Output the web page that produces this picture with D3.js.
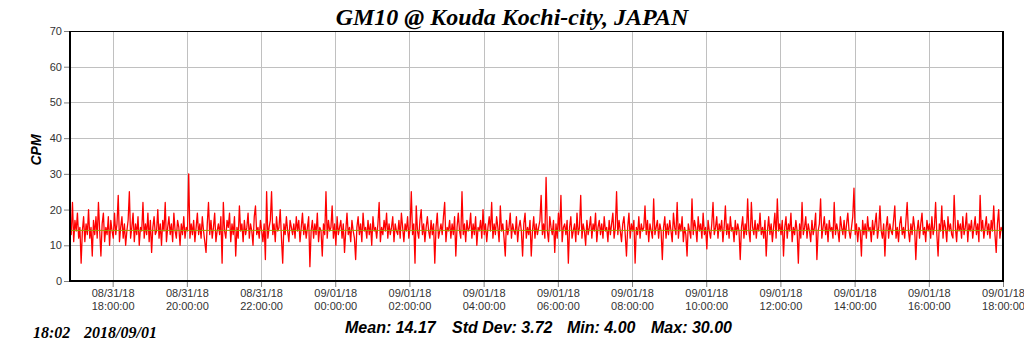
<!DOCTYPE html>
<html>
<head>
<meta charset="utf-8">
<script src="https://cdn.jsdelivr.net/npm/d3@7"></script>
<style>
  body { margin: 0; background: #fff; }
  svg { display: block; }
</style>
</head>
<body>
<script>
// counts per minute, one reading every 2 minutes from 08/31/18 16:51
const cpm = [
  16,13,22,11,17,14,19,12,15,5,14,18,11,16,13,20,12,15,7,17,
  13,18,12,22,14,7,16,19,11,15,13,18,10,17,14,12,19,13,16,24,
  11,15,18,12,16,10,14,17,25,12,15,19,11,16,13,18,10,15,14,22,
  12,16,13,19,11,17,8,15,18,13,14,20,12,16,10,17,14,22,11,15,
  18,13,16,11,19,14,12,17,15,10,16,13,18,12,15,14,30,12,16,13,
  17,11,15,19,13,16,12,18,14,11,8,16,22,13,17,12,15,19,11,14,
  16,13,18,5,22,14,12,17,15,19,11,16,13,18,7,15,12,21,14,16,
  11,17,13,15,19,12,16,14,10,18,21,13,15,12,17,14,11,16,6,25,
  12,15,17,25,13,16,11,18,14,15,20,12,5,16,13,18,14,11,17,15,
  13,16,12,18,14,17,11,15,19,13,16,12,15,18,4,14,17,12,16,13,
  19,11,15,14,7,16,13,25,12,17,14,15,21,12,16,10,18,13,15,17,
  12,16,8,14,19,13,15,11,17,14,12,6,15,18,13,16,11,19,14,15,
  12,17,13,16,10,18,14,15,12,16,22,11,15,13,17,14,19,12,16,13,
  15,18,11,16,14,13,17,12,19,15,11,16,14,18,12,15,25,13,16,5,
  21,14,12,17,20,13,16,11,15,18,14,12,17,13,16,5,15,19,12,14,
  16,13,18,22,11,15,14,17,12,16,13,18,7,15,19,14,12,25,13,16,
  11,17,14,15,19,12,16,13,18,10,15,14,17,12,20,13,16,11,15,18,
  14,22,12,16,13,18,15,11,21,14,16,12,7,17,13,15,19,12,16,14,
  13,18,11,15,17,14,7,16,19,12,15,13,17,7,14,18,12,16,13,15,
  17,24,13,16,12,29,14,11,18,15,13,17,8,16,12,19,14,24,11,15,
  16,13,17,5,15,18,12,14,16,11,19,13,15,24,12,16,14,10,17,13,
  15,18,12,16,14,19,11,15,17,13,16,12,18,14,15,11,17,13,16,19,
  12,15,25,13,17,14,11,16,18,13,7,15,19,12,16,14,17,5,15,13,
  18,12,16,14,15,21,13,17,11,16,14,12,23,13,15,17,12,16,14,6,
  15,18,12,16,13,17,14,11,19,15,13,22,12,16,14,18,11,15,13,7,
  16,14,12,23,13,17,15,11,18,14,16,12,19,13,15,9,17,14,12,16,
  22,13,15,18,12,16,14,17,11,15,21,13,16,12,18,14,15,11,17,13,
  16,14,6,15,18,12,16,13,23,14,11,22,15,13,17,12,16,14,19,13,
  15,12,17,7,14,18,13,16,11,15,19,12,23,14,16,13,17,7,15,18,
  12,16,14,19,11,15,13,17,14,5,16,12,22,13,15,18,12,16,14,11,
  17,13,15,19,6,14,16,23,12,15,18,13,16,11,17,14,15,12,22,13,
  16,14,11,18,15,13,17,12,16,19,14,12,15,18,26,13,16,11,15,14,
  7,17,13,16,12,18,14,15,11,17,13,16,19,12,15,21,14,12,16,7,
  15,18,12,16,14,13,17,21,12,15,11,16,18,13,15,12,17,22,14,11,
  16,13,18,15,6,14,17,12,16,19,13,15,11,17,14,16,12,18,13,15,
  22,13,7,16,14,21,12,17,15,11,18,14,16,13,12,24,15,11,17,14,
  16,12,18,13,15,19,11,16,14,17,12,15,18,13,16,11,24,14,17,12,
  15,18,13,16,12,17,14,21,13,8,16,20,12,15,14
];
const START = "08/31/18 16:51:00";
const END = "09/01/18 18:00:00";
const STEP_MIN = 2;

const xTickLabels = [
  "08/31/18 18:00:00", "08/31/18 20:00:00", "08/31/18 22:00:00",
  "09/01/18 00:00:00", "09/01/18 02:00:00", "09/01/18 04:00:00",
  "09/01/18 06:00:00", "09/01/18 08:00:00", "09/01/18 10:00:00",
  "09/01/18 12:00:00", "09/01/18 14:00:00", "09/01/18 16:00:00",
  "09/01/18 18:00:00"
];
const yTicks = [0, 10, 20, 30, 40, 50, 60, 70];

const TITLE = "GM10 @ Kouda Kochi-city, JAPAN";
const Y_LABEL = "CPM";
const STAMP_TIME = "18:02";
const STAMP_DATE = "2018/09/01";
const MEAN = 14.17, STD = 3.72, MIN = 4.00, MAX = 30.00;

const WIDTH = 1024;
const HEIGHT = 351;
const LEFT = 70, RIGHT = 1003, TOP = 31, BOTTOM = 281;

const parse = d3.timeParse("%m/%d/%y %H:%M:%S");
const t0 = parse(START);
const dataset = cpm.map((v, i) => [d3.timeMinute.offset(t0, i * STEP_MIN), v]);

const svg = d3.select("body")
  .append("svg")
  .attr("width", WIDTH)
  .attr("height", HEIGHT);

const xScale = d3.scaleTime()
  .domain([t0, parse(END)])
  .range([LEFT, RIGHT]);

const yScale = d3.scaleLinear()
  .domain([0, 70])
  .range([BOTTOM, TOP]);

const tickDates = xTickLabels.map(parse);

// grid
svg.append("g")
  .selectAll("line")
  .data(yTicks.slice(1, -1))
  .enter()
  .append("line")
  .attr("x1", LEFT).attr("x2", RIGHT)
  .attr("y1", d => Math.round(yScale(d)) + 0.5)
  .attr("y2", d => Math.round(yScale(d)) + 0.5)
  .attr("stroke", "#c0c0c0");

svg.append("g")
  .selectAll("line")
  .data(tickDates.slice(0, -1))
  .enter()
  .append("line")
  .attr("x1", d => Math.round(xScale(d)) + 0.5)
  .attr("x2", d => Math.round(xScale(d)) + 0.5)
  .attr("y1", TOP).attr("y2", BOTTOM)
  .attr("stroke", "#c0c0c0");

// series
const line = d3.line()
  .x(d => xScale(d[0]))
  .y(d => yScale(d[1]));

svg.append("path")
  .datum(dataset)
  .attr("fill", "none")
  .attr("stroke", "#ff0000")
  .attr("stroke-width", 1.3)
  .attr("stroke-linejoin", "round")
  .attr("d", line);

svg.append("line")
  .attr("x1", LEFT).attr("x2", RIGHT)
  .attr("y1", yScale(MEAN)).attr("y2", yScale(MEAN))
  .attr("stroke", "#a09a00")
  .attr("stroke-width", 1);

// frame
svg.append("line").attr("x1", LEFT).attr("x2", RIGHT).attr("y1", TOP + 0.5).attr("y2", TOP + 0.5)
  .attr("stroke", "#000");
svg.append("line").attr("x1", LEFT).attr("x2", LEFT).attr("y1", TOP).attr("y2", BOTTOM + 1)
  .attr("stroke", "#000").attr("stroke-width", 2);
svg.append("line").attr("x1", RIGHT).attr("x2", RIGHT).attr("y1", TOP).attr("y2", BOTTOM + 1)
  .attr("stroke", "#000").attr("stroke-width", 2);
svg.append("line").attr("x1", LEFT - 1).attr("x2", RIGHT + 1).attr("y1", BOTTOM).attr("y2", BOTTOM)
  .attr("stroke", "#000").attr("stroke-width", 2);

// y axis
const yAxis = d3.axisLeft(yScale)
  .tickValues(yTicks)
  .tickSize(5)
  .tickPadding(2);

const gy = svg.append("g")
  .attr("transform", "translate(" + (LEFT - 1) + ", 0)")
  .call(yAxis);
gy.select(".domain").remove();
gy.selectAll(".tick line").attr("stroke", "#808080");
gy.selectAll(".tick text")
  .attr("fill", "#333")
  .style("font-family", "'Liberation Sans', Arial, sans-serif")
  .style("font-size", "11px");

// x axis
const xAxis = d3.axisBottom(xScale)
  .tickValues(tickDates)
  .tickSize(5)
  .tickFormat("");

const gx = svg.append("g")
  .attr("transform", "translate(0, " + (BOTTOM + 1) + ")")
  .call(xAxis);
gx.select(".domain").remove();
gx.selectAll(".tick line").attr("stroke", "#808080");

gx.selectAll(".tick")
  .append("text")
  .attr("fill", "#333")
  .attr("text-anchor", "middle")
  .style("font-family", "'Liberation Sans', Arial, sans-serif")
  .style("font-size", "11px")
  .selectAll("tspan")
  .data((d, i) => xTickLabels[i].split(" "))
  .enter()
  .append("tspan")
  .attr("x", 0)
  .attr("y", (d, i) => 15 + i * 13)
  .text(d => d);

// texts
const serif = "'Liberation Serif', 'Times New Roman', serif";
const sans = "'Liberation Sans', Arial, sans-serif";

function label(x, y, txt, family, size) {
  return svg.append("text")
    .attr("x", x)
    .attr("y", y)
    .style("font-family", family)
    .style("font-weight", "bold")
    .style("font-style", "italic")
    .style("font-size", size + "px")
    .text(txt);
}

label(512, 25, TITLE, serif, 24).attr("text-anchor", "middle");

label(0, 0, Y_LABEL, sans, 14)
  .attr("transform", "translate(41, 150) rotate(-90)")
  .attr("text-anchor", "middle");

label(33, 338, STAMP_TIME, serif, 16);
label(84, 338, STAMP_DATE, serif, 16);

label(345, 333, "Mean: " + MEAN.toFixed(2), sans, 16);
label(452, 333, "Std Dev: " + STD.toFixed(2), sans, 16);
label(567, 333, "Min: " + MIN.toFixed(2), sans, 16);
label(651, 333, "Max: " + MAX.toFixed(2), sans, 16);
</script>
</body>
</html>
